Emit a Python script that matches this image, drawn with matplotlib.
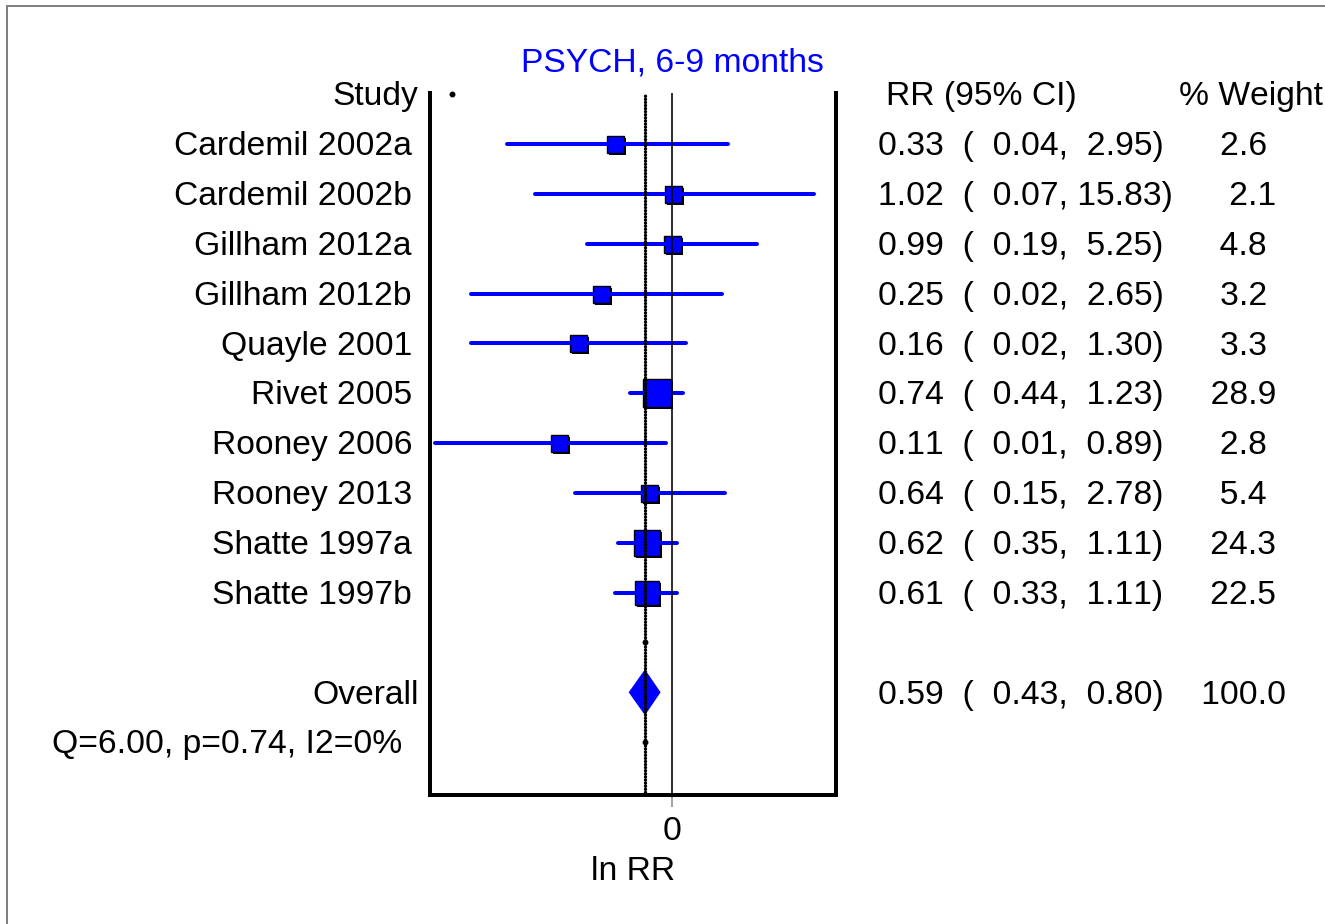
import numpy as np
import matplotlib
matplotlib.use("Agg")
import matplotlib.pyplot as plt
import matplotlib.transforms as mtransforms
from matplotlib.lines import Line2D
from matplotlib.patches import Polygon

# ---- data -------------------------------------------------------------
studies = ["Cardemil 2002a", "Cardemil 2002b", "Gillham 2012a", "Gillham 2012b",
           "Quayle 2001", "Rivet 2005", "Rooney 2006", "Rooney 2013",
           "Shatte 1997a", "Shatte 1997b"]
rr = [0.33, 1.02, 0.99, 0.25, 0.16, 0.74, 0.11, 0.64, 0.62, 0.61]
ci_lo = [0.04, 0.07, 0.19, 0.02, 0.02, 0.44, 0.01, 0.15, 0.35, 0.33]
ci_hi = [2.95, 15.83, 5.25, 2.65, 1.30, 1.23, 0.89, 2.78, 1.11, 1.11]
weight = [2.6, 2.1, 4.8, 3.2, 3.3, 28.9, 2.8, 5.4, 24.3, 22.5]

overall_rr = 0.59
overall_lo = 0.43
overall_hi = 0.80
overall_weight = 100.0
het_q, het_p, het_i2 = 6.00, 0.74, 0

title = "PSYCH, 6-9 months"
xlabel = "ln RR"

# ---- figure setup -------------------------------------------------------
W, H, DPI = 1325, 924, 100
FONT = "Liberation Sans"
FS = 24.25
BLUE = "#0000FF"
plt.rcParams["font.family"] = [FONT, "DejaVu Sans"]
# columns are laid out with padded spaces, so keep glyph advances unkerned
plt.rcParams["text.kerning_factor"] = 12

fig = plt.figure(figsize=(W / DPI, H / DPI), dpi=DPI)


def fx(px):
    return px / W


def fy(py):
    return 1 - py / H


ax_left, ax_right, ax_top, ax_bottom = 430.5, 835.5, 93.0, 794.5
ax = fig.add_axes([fx(ax_left), fy(ax_bottom), fx(ax_right - ax_left),
                   (ax_bottom - ax_top) / H])

n = len(studies)
rows = np.arange(n)
overall_row = n + 1
het_row = n + 2

ax.set_xlim(-4.70, 3.18)
ax.set_ylim(13.05, -1.024)

px = 1 / 0.72  # pixels per point at 100 dpi

# spines
for side in ("left", "right", "bottom"):
    ax.spines[side].set_linewidth(4 / px)
    ax.spines[side].set_color("black")
ax.spines["top"].set_visible(False)
ax.set_yticks([])
ax.set_xticks([0])
ax.set_xticklabels(["0"], fontsize=FS, fontfamily=FONT)
ax.tick_params(axis="x", direction="out", length=12 / px, width=1.6 / px,
               color="#8c8c8c", pad=6.5)

ln_rr = np.log(rr)
ln_lo = np.log(ci_lo)
ln_hi = np.log(ci_hi)
ln_ov = np.log(overall_rr)

# study squares: dark offset shadow + blue square
side_px = np.maximum(17.0, 5.2 * np.sqrt(weight))
shadow = ax.transData + mtransforms.ScaledTranslation(2 / DPI, -2 / DPI,
                                                     fig.dpi_scale_trans)
for i in range(n):
    ax.plot(ln_rr[i], rows[i], marker="s", ms=side_px[i] / px, color="black",
            mec="black", mew=0, transform=shadow, zorder=2, linestyle="none")
    ax.plot(ln_rr[i], rows[i], marker="s", ms=side_px[i] / px, color=BLUE,
            mec="black", mew=1.4 / px, zorder=2.5, linestyle="none")

# confidence intervals
for i in range(n):
    ax.plot([ln_lo[i], ln_hi[i]], [rows[i], rows[i]], color=BLUE,
            lw=4 / px, solid_capstyle="round", zorder=3)

# overall diamond
dh = 0.46
diamond = Polygon([[np.log(overall_lo), overall_row],
                   [ln_ov, overall_row - dh],
                   [np.log(overall_hi), overall_row],
                   [ln_ov, overall_row + dh]],
                  closed=True, facecolor=BLUE, edgecolor="none", zorder=3)
ax.add_patch(diamond)

# reference lines: no effect and pooled estimate (beaded dotted line)
ax.axvline(0, color="black", lw=1.6 / px, zorder=4)
ax.axvline(ln_ov, color="black", lw=3.4 / px, linestyle=(0, (0.01, 0.9)),
           dash_capstyle="round", zorder=4)
ax.plot([ln_ov, ln_ov], [n, het_row], marker="o", ms=4.5 / px, color="black",
        linestyle="none", zorder=4)
ax.plot([0.053], [0.998], marker="o", ms=4.5 / px, color="black",
        transform=ax.transAxes, clip_on=False, zorder=4)

# ---- text ----------------------------------------------------------------
row_text = mtransforms.blended_transform_factory(fig.transFigure, ax.transData)
shift = 0.225  # baseline below row centre, in row units

ax.text(fx(418), -1 + shift, "Study", transform=row_text, ha="right",
        va="baseline", fontsize=FS)
ax.text(fx(886), -1 + shift, "RR (95% CI)", transform=row_text, ha="left",
        va="baseline", fontsize=FS)
ax.text(fx(1179), -1 + shift, "% Weight", transform=row_text, ha="left",
        va="baseline", fontsize=FS)

for i in range(n):
    ax.text(fx(412), rows[i] + shift, studies[i], transform=row_text,
            ha="right", va="baseline", fontsize=FS)
    s = f"{rr[i]:.2f}  ( {ci_lo[i]:5.2f}, {ci_hi[i]:5.2f})    {weight[i]:5.1f}"
    ax.text(fx(877.5), rows[i] + shift, s, transform=row_text, ha="left",
            va="baseline", fontsize=FS)

ax.text(fx(419), overall_row + shift, "Overall", transform=row_text,
        ha="right", va="baseline", fontsize=FS)
s = (f"{overall_rr:.2f}  ( {overall_lo:5.2f}, {overall_hi:5.2f})    "
     f"{overall_weight:5.1f}")
ax.text(fx(877.5), overall_row + shift, s, transform=row_text, ha="left",
        va="baseline", fontsize=FS)
ax.text(fx(52.5), het_row + shift,
        f"Q={het_q:.2f}, p={het_p:.2f}, I2={het_i2:d}%",
        transform=row_text, ha="left", va="baseline", fontsize=FS)

fig.text(fx(672.5), fy(72), title, color=BLUE, ha="center", va="baseline",
         fontsize=FS)
fig.text(fx(633), fy(880), xlabel, ha="center", va="baseline", fontsize=FS)

# outer frame edges (top and left)
fig.add_artist(Line2D([fx(7), 1], [fy(6), fy(6)], color="#808080",
                      lw=2 / px, transform=fig.transFigure))
fig.add_artist(Line2D([fx(7), fx(7)], [fy(6), 0], color="#808080",
                      lw=2 / px, transform=fig.transFigure))

fig.savefig("out.png", dpi=DPI, facecolor="white")
